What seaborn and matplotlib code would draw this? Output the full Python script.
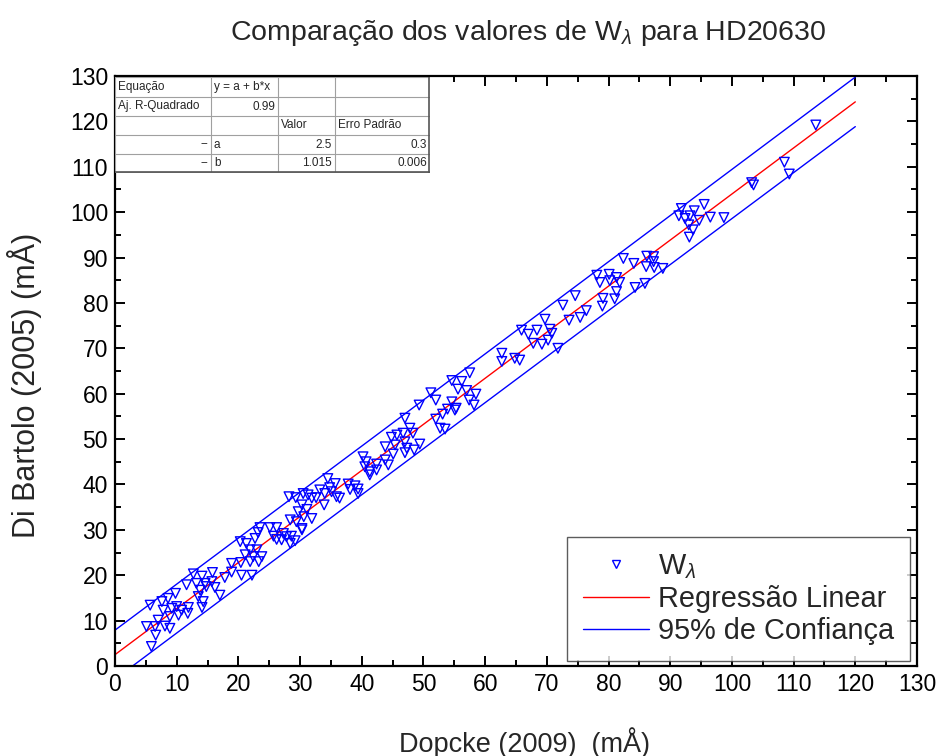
import numpy as np
import pandas as pd
import seaborn as sns
import matplotlib
matplotlib.use("Agg")
import matplotlib.pyplot as plt
from matplotlib.lines import Line2D

# Equivalent widths (mÅ): Dopcke (2009) vs Di Bartolo (2005)
dopcke = [
    5.7, 5.9, 5.1, 6.5, 7.0, 8.1, 8.9, 6.6,
    7.6, 8.6, 9.8, 7.8, 9.2, 10.0, 8.9, 10.3, 10.8, 11.9, 11.8,
    11.6, 12.7, 14.1, 13.2, 14.6, 15.8, 15.7, 13.8, 13.5, 14.3, 14.1, 14.8, 16.2, 17.0,
    17.8, 18.9, 20.4, 18.9, 20.5, 22.2, 21.9, 23.3,
    23.5, 25.1, 26.2, 23.2, 22.7, 21.3, 20.3,
    25.7, 27.3, 27.8, 28.6, 29.2, 28.4, 27.0, 26.2, 30.3,
    21.9, 23.0, 22.4, 23.8, 21.1,
    28.4, 29.4, 30.3,
    30.3, 31.1, 29.7, 31.9, 30.6,
    28.2, 29.3, 30.5, 31.3, 31.9, 32.6,
    33.2, 34.0, 35.1, 33.9,
    35.9, 36.4,
    37.8, 38.9, 38.1, 39.4, 39.4,
    34.5, 35.7, 34.8,
    40.2, 40.7, 40.5, 41.3, 42.4, 43.8, 44.3, 41.3, 42.4,
    45.1, 47.0, 43.8, 45.4, 47.3, 48.5, 47.0, 49.4, 44.8, 45.7, 46.7, 48.3, 47.8, 47.0, 49.3,
    52.7, 53.5, 52.0, 53.1, 53.9, 55.3, 52.0, 54.6, 57.4, 58.2, 51.2, 55.6, 57.0, 58.5,
    54.6, 56.2, 57.5, 55.1,
    62.7, 62.7, 64.8, 65.6,
    65.9, 67.0, 68.4, 70.5, 70.8, 70.2, 67.8, 69.2, 71.8, 69.7,
    73.6, 75.4, 76.4, 72.6, 74.6,
    79.0, 79.1, 81.0, 81.3, 78.6, 80.2, 81.8, 78.1, 80.1, 81.3, 84.3, 85.9,
    82.4, 84.1, 86.2, 87.3, 87.3, 86.1, 87.4, 88.8,
    91.8, 93.9, 91.4, 93.2, 92.4, 94.7, 96.5, 98.7, 93.0, 93.7, 93.1, 95.5,
    103.2, 103.5, 108.5, 109.3, 113.6,
]
di_bartolo = [
    13.4, 4.3, 8.7, 8.7, 10.1, 8.8, 8.3, 6.8,
    14.2, 14.9, 16.0, 12.3, 12.7, 13.1, 10.9, 11.2, 12.3, 12.9, 11.6,
    17.9, 20.3, 19.8, 18.2, 18.2, 20.6, 18.6, 16.7, 15.3, 14.2, 12.9, 17.5, 17.3, 15.6,
    19.5, 22.6, 22.8, 20.7, 20.0, 20.0, 23.0, 23.0,
    30.5, 30.5, 30.5, 29.4, 28.1, 27.0, 27.4,
    28.6, 29.2, 28.5, 28.6, 27.6, 27.0, 27.8, 27.9, 30.0,
    25.6, 25.6, 24.1, 24.1, 24.5,
    32.2, 31.8, 30.3,
    35.5, 34.5, 34.0, 32.5, 32.9,
    37.3, 37.1, 38.0, 37.7, 37.0, 37.1,
    38.8, 38.0, 38.4, 35.5,
    37.3, 37.0,
    40.1, 39.7, 38.9, 39.0, 38.0,
    41.3, 40.2, 39.3,
    46.1, 45.0, 43.9, 42.8, 43.2, 45.4, 44.3, 42.1, 44.5,
    46.7, 47.0, 48.3, 48.7, 48.0, 47.6, 49.4, 48.9, 50.4, 50.9, 51.3, 51.3, 52.4, 54.6, 57.5,
    52.4, 52.2, 54.4, 55.5, 56.6, 56.8, 58.6, 58.2, 58.6, 57.5, 60.2, 61.0, 60.7, 59.9,
    62.9, 62.7, 64.6, 56.4,
    68.9, 67.1, 67.8, 67.4,
    74.0, 73.1, 74.0, 74.2, 73.3, 71.8, 71.1, 70.9, 70.0, 76.4,
    76.2, 76.8, 78.3, 79.5, 81.6,
    79.3, 81.0, 80.9, 82.5, 84.5, 84.9, 84.5, 86.1, 86.3, 85.6, 83.4, 84.3,
    89.8, 88.7, 90.3, 90.2, 89.1, 88.0, 87.8, 87.6,
    100.8, 100.3, 99.2, 99.2, 98.6, 98.2, 98.9, 98.8, 97.2, 96.1, 94.5, 101.7,
    106.5, 106.0, 111.0, 108.4, 119.2,
]

# Linear fit y = a + b*x
fit_a = 2.5
fit_b = 1.015
fit_a_err = 0.3
fit_b_err = 0.006
adj_r2 = 0.99

xticks = list(range(0, 131, 10))
yticks = list(range(0, 131, 10))

sns.set_theme(style="white")
plt.rcParams["font.family"] = ["Liberation Sans", "DejaVu Sans"]
plt.rcParams["mathtext.fontset"] = "custom"
plt.rcParams["mathtext.rm"] = "Liberation Sans"
plt.rcParams["mathtext.it"] = "Liberation Sans:italic"

df = pd.DataFrame({"x": dopcke, "y": di_bartolo})

# fitted line and 95% prediction band over 0..120
xs = np.linspace(0, 120, 200)
ys = fit_a + fit_b * xs
x_arr = np.asarray(dopcke)
y_arr = np.asarray(di_bartolo)
n = len(x_arr)
resid = y_arr - (fit_a + fit_b * x_arr)
s = np.sqrt(np.sum(resid ** 2) / (n - 2))
xm = x_arr.mean()
sxx = np.sum((x_arr - xm) ** 2)
half = 1.97 * s * np.sqrt(1 + 1 / n + (xs - xm) ** 2 / sxx)
lines = pd.DataFrame({"x": xs, "fit": ys, "upper": ys + half, "lower": ys - half})

fig = plt.figure(figsize=(9.37, 7.56), dpi=100)
ax = fig.add_axes([115 / 937, 1 - 666 / 756, (917 - 115) / 937, (666 - 76) / 756])

sns.lineplot(data=lines, x="x", y="upper", ax=ax, color="blue", lw=1.0)
sns.lineplot(data=lines, x="x", y="lower", ax=ax, color="blue", lw=1.0)
sns.lineplot(data=lines, x="x", y="fit", ax=ax, color="red", lw=1.0)
sns.scatterplot(data=df, x="x", y="y", ax=ax, marker="v", s=48,
                facecolor="none", edgecolor="blue", linewidth=1.0, zorder=3)

ax.set_xlim(0, 130)
ax.set_ylim(0, 130)
ax.set_xticks(xticks)
ax.set_yticks(yticks)
ax.set_xticks(np.arange(5, 130, 10), minor=True)
ax.set_yticks(np.arange(5, 130, 10), minor=True)
ax.tick_params(which="both", direction="in", top=True, right=True,
               bottom=True, left=True, labelsize=16.5, colors="black", pad=5)
ax.tick_params(which="major", length=7, width=1.4)
ax.tick_params(which="minor", length=4, width=1.4)
for sp in ax.spines.values():
    sp.set_linewidth(1.6)
    sp.set_color("black")

ax.set_xlabel("Dopcke (2009)  (mÅ)", fontsize=19.5)
ax.xaxis.set_label_coords(0.511, -0.103)
ax.set_ylabel("Di Bartolo (2005) (mÅ)", fontsize=22)
ax.yaxis.set_label_coords(-0.091, 0.476)
fig.text(0.564, 0.957, "Comparação dos valores de W$_{\\lambda}$ para HD20630",
         ha="center", va="center", fontsize=20.5)

handles = [
    Line2D([], [], marker="v", ls="none", markerfacecolor="none",
           markeredgecolor="blue", markersize=6),
    Line2D([], [], color="red", lw=1.0),
    Line2D([], [], color="blue", lw=1.0),
]
leg = ax.legend(handles, ["W$_{\\lambda}$", "Regressão Linear", "95% de Confiança"],
                loc="lower right", bbox_to_anchor=(0.991, 0.008), fontsize=20.8,
                frameon=True, fancybox=False, borderpad=0.55, labelspacing=0.14,
                handlelength=2.3, handletextpad=0.3, borderaxespad=0.0)
leg.get_frame().set_edgecolor("#333333")
leg.get_frame().set_linewidth(1.0)

# Fit summary table in the upper-left corner
tab = fig.add_axes([115 / 937, 1 - 173 / 756, (430 - 115) / 937, (173 - 77) / 756])
tab.set_xlim(0, 315)
tab.set_ylim(96, 0)
tab.axis("off")
tab.add_patch(plt.Rectangle((0, 0), 315, 96, facecolor="white", edgecolor="none"))
col_edges = [0, 96, 163, 220, 315]
row_edges = [0, 20, 39, 58, 77, 95]
for xc in col_edges:
    tab.plot([xc, xc], [0, 95], color="#a0a0a0", lw=0.8)
for yr in row_edges:
    tab.plot([0, 315], [yr, yr], color="#a0a0a0", lw=0.8)
tab.plot([314, 314], [0, 96], color="#555555", lw=1.2)
tab.plot([0, 315], [95, 95], color="#555555", lw=1.2)

cells = [
    ["Equação", "y = a + b*x", "", ""],
    ["Aj. R-Quadrado", f"{adj_r2:.2f}", "", ""],
    ["", "", "Valor", "Erro Padrão"],
    ["--", "a", f"{fit_a}", f"{fit_a_err}"],
    ["--", "b", f"{fit_b}", f"{fit_b_err}"],
]
right_aligned = {(1, 1), (3, 0), (4, 0), (3, 2), (4, 2), (3, 3), (4, 3)}
for r, row in enumerate(cells):
    yc = (row_edges[r] + row_edges[r + 1]) / 2
    for c, txt in enumerate(row):
        if not txt:
            continue
        if (r, c) in right_aligned:
            tab.text(col_edges[c + 1] - 3, yc, txt, ha="right", va="center", fontsize=8.5)
        else:
            tab.text(col_edges[c] + 3, yc, txt, ha="left", va="center", fontsize=8.5)

fig.savefig("out.png", dpi=100)
